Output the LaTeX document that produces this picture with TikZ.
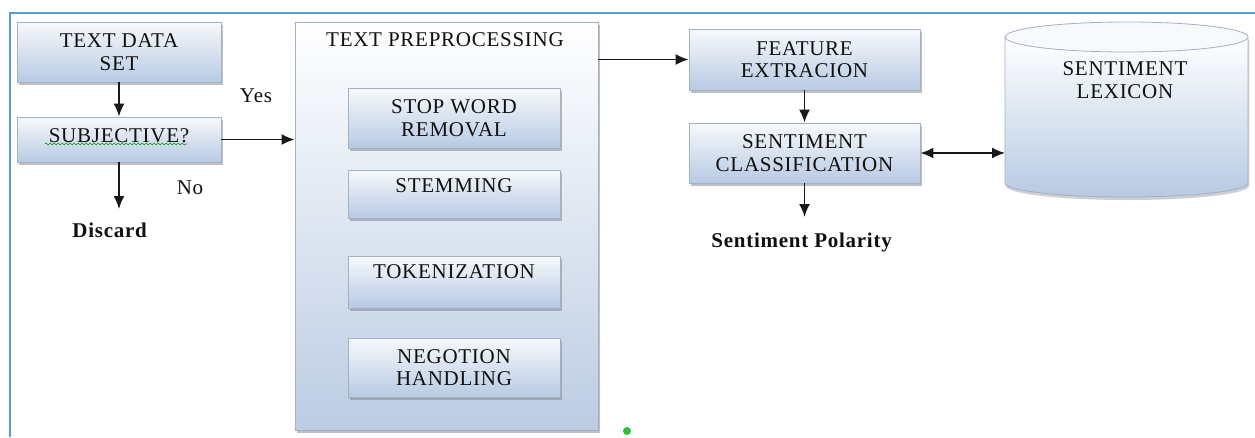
\documentclass[tikz,border=0pt]{standalone}
\usepackage{fontspec}
\setmainfont{Liberation Serif}
\newfontfamily\diagfont[LetterSpace=3.5]{Liberation Serif}
\usetikzlibrary{arrows.meta,shadows,decorations.pathmorphing}
\definecolor{frameblue}{HTML}{5B9BD5}
\definecolor{boxedge}{HTML}{A3B1C4}
\definecolor{boxtop}{HTML}{F7F9FC}
\definecolor{boxbot}{HTML}{B7CAE3}
\definecolor{bigbot}{HTML}{BCCCE3}
\definecolor{inktext}{HTML}{101010}
\definecolor{dotgreen}{HTML}{2DBE3C}
\begin{document}
\begin{tikzpicture}[x=1pt,y=-1pt,
  every node/.style={text=inktext},
  txt/.style={font=\diagfont\fontsize{21}{22.5}\selectfont},
  box/.style={txt, draw=boxedge, line width=0.8pt, top color=boxtop, bottom color=boxbot,
    align=center, inner sep=2pt,
    drop shadow={shadow xshift=1.5pt, shadow yshift=-2.5pt, opacity=0.45, fill=black!55}},
  arr/.style={-{Latex[length=13pt,width=11pt]}, line width=1.8pt, draw=black!90},
  dblarr/.style={{Latex[length=13pt,width=11pt]}-{Latex[length=13pt,width=11pt]}, line width=1.8pt, draw=black!90},
]
\useasboundingbox (0,0) rectangle (1255,437);
\fill[white] (0,0) rectangle (1255,437);

% frame lines along the top and left
\draw[frameblue, line width=2.5pt] (10,437) -- (10,13) -- (1255,13);

% left column
\node[box, minimum width=204pt, minimum height=60pt] (tds) at (119,52) {TEXT DATA\\SET};
\node[box, minimum width=204pt, minimum height=45pt, text depth=8pt] (subj) at (119,139.5) {SUBJECTIVE?};
\draw[green!60!black, line width=0.6pt, decorate, decoration={snake, amplitude=1pt, segment length=4pt}]
  (45,144) -- (187,144);

\draw[arr] (tds) -- (subj);
\coordinate (discardtop) at (119,209);
\draw[arr] (subj.south) -- (discardtop);
\node[txt] (no) at (190,188) {No};
\node[txt] (discard) at (110,230) {\textbf{Discard}};
\node[txt] (yes) at (256,96) {Yes};

% preprocessing block
\node[box, top color=white, bottom color=bigbot, minimum width=303pt, minimum height=408pt] (tp) at (446.5,226) {};
\node[txt, anchor=center] (tptitle) at (445,40) {TEXT PREPROCESSING};
\node[box, minimum width=212pt, minimum height=60pt] (sw) at (454,118) {STOP WORD\\REMOVAL};
\node[box, minimum width=212pt, minimum height=48pt, text depth=16pt] (stem) at (454,194) {STEMMING};
\node[box, minimum width=212pt, minimum height=52pt, text depth=20pt] (tok) at (454,282) {TOKENIZATION};
\node[box, minimum width=212pt, minimum height=59pt] (neg) at (454,367.5) {NEGOTION\\HANDLING};

\draw[arr] (subj.east) -- (subj.east -| tp.west);

% right column
\node[box, minimum width=231pt, minimum height=61pt] (fe) at (804.5,59.5) {FEATURE\\EXTRACION};
\node[box, minimum width=231pt, minimum height=60pt] (sc) at (804.5,153) {SENTIMENT\\CLASSIFICATION};
\draw[arr] (tp.east |- fe.west) -- (fe.west);
\draw[arr] (fe) -- (sc);
\coordinate (poltop) at (804.5,217);
\draw[arr] (sc.south) -- (poltop);
\node[txt] (pol) at (802,242) {\textbf{Sentiment Polarity}};

% lexicon store drawn as a cylinder
\path[draw=boxedge, line width=0.8pt, top color=white, bottom color=boxbot,
  drop shadow={shadow xshift=1pt, shadow yshift=-3pt, opacity=0.35, fill=black!55}]
  (1005,37) -- (1005,183)
  .. controls (1005,190.7) and (1059.4,197) .. (1126.5,197)
  .. controls (1193.6,197) and (1248,190.7) .. (1248,183)
  -- (1248,37) -- cycle;
\draw[draw=boxedge, line width=0.8pt, fill=boxtop] (1126.5,37) ellipse [x radius=121.5pt, y radius=15pt];
\node[txt, align=center] (lex) at (1125,80) {SENTIMENT\\LEXICON};
\coordinate (lexw) at (1005,153);
\draw[dblarr] (sc.east) -- (lexw);

% small marker below the preprocessing block
\fill[dotgreen] (627,431) circle[radius=4pt];
\end{tikzpicture}
\end{document}
